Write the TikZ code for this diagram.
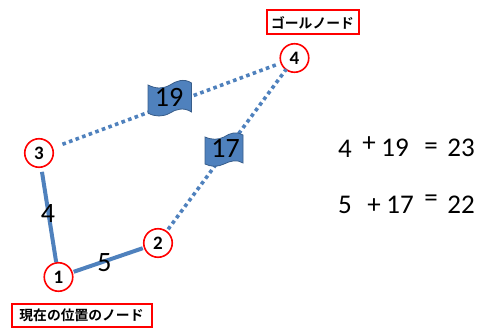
\documentclass[tikz,border=0pt]{standalone}
\usepackage{fontspec}
\setmainfont{Carlito}
\newfontfamily\jpfont{Noto Sans CJK JP}[BoldFont={Noto Sans CJK JP Bold}]
\definecolor{edgeblue}{HTML}{4F81BD}
\definecolor{flagline}{HTML}{385D8A}
\definecolor{ringred}{HTML}{FF0000}
\tikzset{
  x=1pt,y=-1pt,
  statenode/.style={circle,draw=ringred,line width=1.6pt,fill=white,minimum size=28.5pt,inner sep=0pt,font=\bfseries\fontsize{19}{19}\selectfont},
  labelbox/.style={draw=ringred,line width=2pt,fill=white,inner sep=0pt,font=\jpfont\bfseries\fontsize{13.8}{14}\selectfont},
  solidedge/.style={edgeblue,line width=4pt},
  dotedge/.style={edgeblue,line width=3.6pt,dash pattern=on 3.6pt off 3.4pt},
  flagbody/.style={fill=edgeblue,draw=flagline,line width=0.8pt},
  bignum/.style={inner sep=0pt,font=\fontsize{28}{28}\selectfont,text=black},
  eqnum/.style={inner sep=0pt,font=\fontsize{27}{27}\selectfont,text=black},
}
\begin{document}
\begin{tikzpicture}
\useasboundingbox (0,0) rectangle (477,329);
\node[statenode] (n1) at (58.5,277) {1};
\node[statenode] (n2) at (158,243) {2};
\node[statenode] (n3) at (39,153) {3};
\node[statenode] (n4) at (294.5,58) {4};
\draw[dotedge,shorten <=10pt,shorten >=4pt] (n3) -- (n4);
\draw[dotedge,shorten <=2pt,shorten >=-1pt] (n2) -- (n4);
\draw[solidedge,shorten <=4pt,shorten >=0pt] (n3) -- (n1);
\draw[solidedge,shorten <=1pt,shorten >=1pt] (n1) -- (n2);
\draw[flagbody] (148,85) .. controls (156,89) and (163,89) .. (170,85)
  .. controls (176,81) and (184,78) .. (191.5,83)
  -- (191.5,112) .. controls (184,107) and (176,109) .. (170,113)
  .. controls (163,117) and (155,117) .. (148,113) -- cycle;
\draw[flagbody] (205,137) .. controls (212,140) and (218,140) .. (224,137)
  .. controls (230,133) and (237,131) .. (243,135)
  -- (243,163) .. controls (237,159) and (230,161) .. (224,164)
  .. controls (218,167) and (211,167) .. (205,164) -- cycle;
\node[bignum] (w19) at (169,97) {19};
\node[bignum] (w17) at (225.5,148) {17};
\node[bignum] (w4) at (48,214) {4};
\node[bignum] (w5) at (104.5,263) {5};
\node[labelbox,minimum width=92pt,minimum height=24pt] (goal) at (312.5,22.5) {ゴールノード};
\node[labelbox,minimum width=140pt,minimum height=23pt] (cur) at (81.5,315.5) {現在の位置のノード};
\node[eqnum] (a1) at (345,149) {4};
\node[eqnum] (a2) at (369,144) {+};
\node[eqnum] (a3) at (395,148) {19};
\node[eqnum] (a4) at (431,149) {=};
\node[eqnum] (a5) at (461,148) {23};
\node[eqnum] (b1) at (345,205) {5};
\node[eqnum] (b2) at (374,206) {+};
\node[eqnum] (b3) at (400,205) {17};
\node[eqnum] (b4) at (431,201) {=};
\node[eqnum] (b5) at (461,205) {22};
\end{tikzpicture}
\end{document}
